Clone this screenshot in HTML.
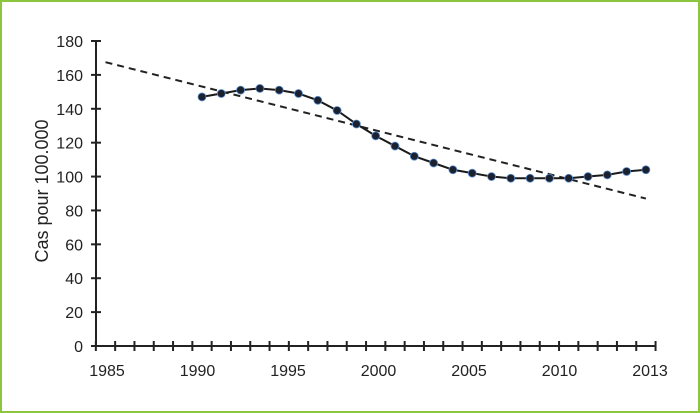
<!DOCTYPE html>
<html><head><meta charset="utf-8"><style>
body{margin:0;background:#fff}
svg{display:block}
text{font-family:"Liberation Sans",sans-serif;fill:#222}
</style></head><body>
<svg width="700" height="413" viewBox="0 0 700 413">
<rect x="1" y="1" width="698" height="411" fill="#fff" stroke="#8cc63f" stroke-width="2"/>
<g id="axes"></g>
<g id="marks"></g>
<text transform="translate(48,191) rotate(-90)" text-anchor="middle" font-size="18">Cas pour 100.000</text>
</svg>
<script>
const years=[1990,1991,1992,1993,1994,1995,1996,1997,1998,1999,2000,2001,2002,2003,2004,2005,2006,2007,2008,2009,2010,2011,2012,2013];
const values=[147,149,151,152,151,149,145,139,131,124,118,112,108,104,102,100,99,99,99,99,100,101,103,104];
const trendYears=[1985,2013];
const trendValues=[167.5,87];
const xLabels=["1985","1990","1995","2000","2005","2010","2013"];
const yTicks=[0,20,40,60,80,100,120,140,160,180];
const NS="http://www.w3.org/2000/svg";
const x=y=>202+(y-1990)*19.3;
const yS=v=>346-v*(305/180);
const axes=document.getElementById('axes'),marks=document.getElementById('marks');
function mk(tag,attrs,parent){const e=document.createElementNS(NS,tag);for(const k in attrs)e.setAttribute(k,attrs[k]);parent.appendChild(e);return e;}
let a=mk('line',{x1:96,y1:41,x2:96,y2:346,stroke:'#222','stroke-width':2},axes);


a=mk('line',{x1:96,y1:346,x2:656,y2:346,stroke:'#222','stroke-width':2},axes);


yTicks.forEach(v=>{
 const t=mk('line',{x1:91,x2:101,y1:yS(v),y2:yS(v),stroke:'#222','stroke-width':2},axes);
 
 
 const l=mk('text',{x:83,y:yS(v)+6,'text-anchor':'end','font-size':16},axes);
 l.textContent=v;
 
 
});
for(let i=0;i<30;i++){
 const xx=x(1984.5+i);
 const t=mk('line',{x1:xx,x2:xx,y1:341,y2:351,stroke:'#222','stroke-width':2},axes);
 
 
}
xLabels.forEach((s,i)=>{
 const l=mk('text',{x:107+i*(543/6),y:376,'text-anchor':'middle','font-size':16},axes);
 l.textContent=s;
 
 
});
const tr=mk('line',{x1:x(trendYears[0]),y1:yS(trendValues[0]),x2:x(trendYears[1]),y2:yS(trendValues[1]),stroke:'#222','stroke-width':2,'stroke-dasharray':'7,5'},marks);


const pl=mk('polyline',{points:years.map((y,i)=>x(y)+','+yS(values[i])).join(' '),fill:'none',stroke:'#1a1a1a','stroke-width':2},marks);


years.forEach((y,i)=>{
 const c=mk('circle',{cx:x(y),cy:yS(values[i]),r:4,fill:'#1c2130',stroke:'#5b8fd0','stroke-width':0.8},marks);
 
 
});
</script>
</body></html>
